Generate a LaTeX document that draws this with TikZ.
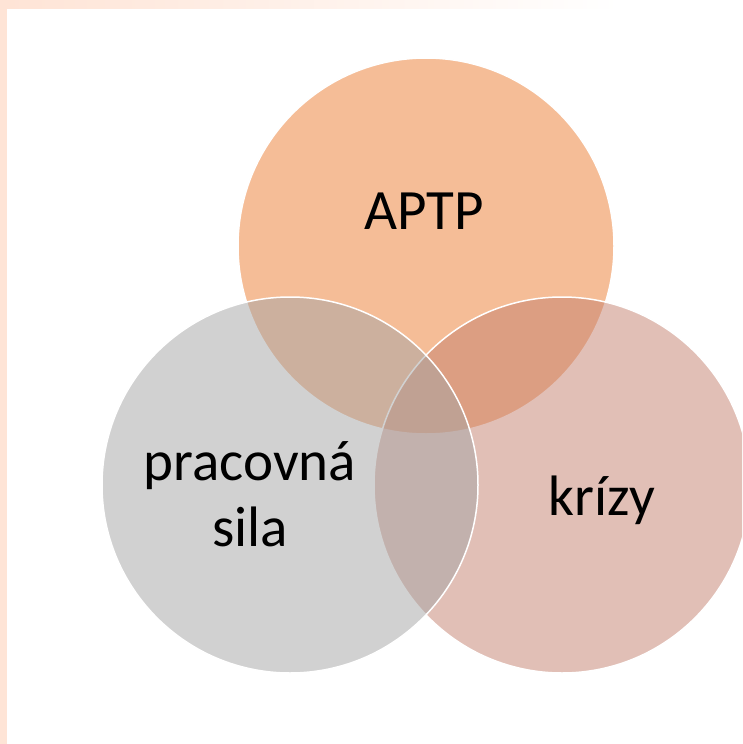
\documentclass[tikz,border=0pt]{standalone}
\usepackage{fontspec}
\setmainfont{Carlito}
\usepackage{xcolor}

\definecolor{aptpOrange}{RGB}{237,125,49}
\definecolor{krizyRose}{RGB}{197,129,111}
\definecolor{silaGray}{RGB}{165,165,165}
\definecolor{slidePeach}{RGB}{254,228,214}

\begin{document}
\begin{tikzpicture}[
    x=1pt, y=-1pt,
    venn/.style={circle, minimum size=376pt, inner sep=0pt,
                 fill opacity=0.5, draw=white, line width=1.5pt},
    venntext/.style={font=\fontsize{57}{66}\selectfont, align=center, inner sep=0pt},
]

% Page and slide edge
\useasboundingbox (0,0) rectangle (742,744);
\clip (0,0) rectangle (742,744);
\fill[white] (0,0) rectangle (742,744);
\fill[slidePeach] (0,0) rectangle (7,744);
\shade[left color=slidePeach, right color=white] (7,0) rectangle (620,8);

% Circles (orange first, then rose, then gray on top)
\node[venn, fill=aptpOrange] (aptp) at (426,246) {};
\node[venn, fill=krizyRose] (krizy) at (562,485) {};
\node[venn, fill=silaGray] (sila) at (290,485) {};

% Labels
\node[venntext, anchor=base] (aptptext) at (424,229) {APTP};
\node[venntext] (silatext) at (250,494) {pracovná\\sila};
\node[venntext, anchor=base] (krizytext) at (602,515) {krízy};

\end{tikzpicture}
\end{document}
